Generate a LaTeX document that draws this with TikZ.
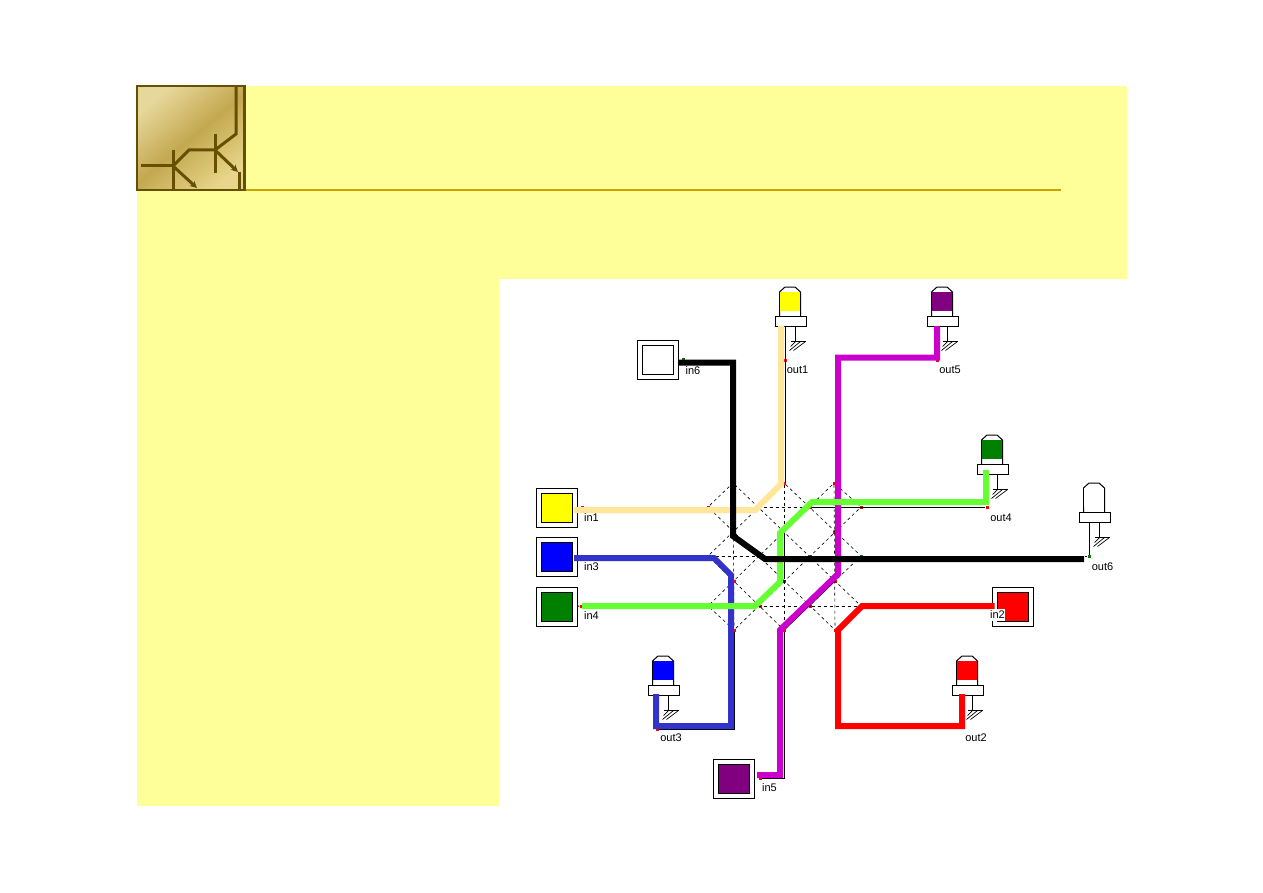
\documentclass[tikz,border=0pt]{standalone}
\usepackage{xcolor}
\usepackage{fontspec}
\setmainfont{Liberation Sans}
\usetikzlibrary{arrows.meta, positioning, calc}

\begin{document}
\begin{tikzpicture}[x=1pt, y=-1pt, font=\fontsize{11}{12}\selectfont]

\definecolor{slide}{HTML}{ffff99}
\definecolor{rule}{HTML}{c9a400}
\definecolor{brown}{HTML}{665000}
\definecolor{gold1}{HTML}{e6d79a}
\definecolor{gold2}{HTML}{c4a850}
\definecolor{gold3}{HTML}{e6d58a}
\definecolor{sig1}{HTML}{ffe699}
\definecolor{sig2}{HTML}{ff0000}
\definecolor{sig3}{HTML}{3333cc}
\definecolor{sig4}{HTML}{66ff33}
\definecolor{sig5}{HTML}{cc00cc}
\definecolor{sig6}{HTML}{000000}
\definecolor{lamp1}{HTML}{ffff00}
\definecolor{lamp2}{HTML}{ff0000}
\definecolor{lamp3}{HTML}{0000ff}
\definecolor{lamp4}{HTML}{008000}
\definecolor{lamp5}{HTML}{800080}

\tikzset{
  inbox/.style={rectangle, draw=black, fill=white, line width=1pt, inner sep=0pt, minimum width=41pt, minimum height=39pt},
  incore/.style={rectangle, draw=black, line width=1pt, inner sep=0pt, minimum width=31pt, minimum height=29pt},
  port/.style={rectangle, fill=red, inner sep=0pt, minimum size=3pt},
  gport/.style={rectangle, fill=lamp4, inner sep=0pt, minimum size=3pt},
  ledbase/.style={rectangle, draw=black, fill=white, line width=1pt, inner sep=0pt, minimum width=31pt, minimum height=10pt},
  lattice/.style={black, line width=.6pt, dash pattern=on 3pt off 3pt},
  thin wire/.style={black, line width=1pt},
  wire/.style={line width=6pt},
  tr/.style={brown, line width=3pt},
  lbl/.style={inner sep=0pt}
}

\useasboundingbox (0,0) rectangle (1263,893);

%slide
\fill[slide] (137,86) rectangle (1127,806);
\fill[white] (499,279) rectangle (1127,806);
\draw[rule, line width=2pt] (203,190) -- (1061,190);

%logo
\node[rectangle, draw=brown, line width=2pt, inner sep=0pt, minimum width=108pt, minimum height=104pt,
  top color=gold1, bottom color=gold3, middle color=gold2, shading angle=40] (logo) at (191,138) {};
\draw[brown, line width=3pt] (244.5,86) -- (244.5,190);
\draw[tr] (141,166) -- (173,166);
\draw[tr] (173,150) -- (173,190);
\draw[tr] (173,166) -- (189,150) -- (215,150);
\draw[tr] (215,134) -- (215,173);
\draw[tr] (215,150) -- (236,134) -- (236,87);
\draw[tr, -{Stealth[length=7pt, width=7pt]}] (173,166) -- (197,188);
\draw[tr, -{Stealth[length=7pt, width=7pt]}] (215,150) -- (238,172);
\draw[tr] (239,172) -- (239,189);

%ports of the switch
\foreach \n/\x/\y in {w1/708/507, w2/708/556, w3/708/606, n1/733/483, n2/784/483, n3/834/483,
    e1/861/507, e3/861/606, s1/734/630, s2/784/630, s3/835/630,
    p1/834/532, p2/734/581, p3/784/581, p4/835/581, p5/760/606, p6/810/606, p7/810/507} {
  \node[port] (\n) at (\x,\y) {};
}
\node[gport] (e2) at (861,556) {};
\node[gport] (p8) at (810,556) {};

\foreach \a/\b in {w1/e1, w2/e2, w3/e3, n1/s1, n2/s2, n3/s3,
    n1/e3, n2/e2, n3/e1, w1/s3, w2/s2, w3/s1,
    w1/n1, w2/n2, w3/n3, s1/e1, s2/e2, s3/e3} {
  \draw[lattice] (\a) -- (\b);
}
\draw[thin wire] (s2) -- (p4);
\draw[thin wire] (p3) -- (784,533);

%inputs
\foreach \n/\x/\y/\c in {in1/556.5/508/lamp1, in3/556.5/557/lamp3,
    in4/556.5/607/lamp4, in6/658/360/white,
    in5/733.5/778.5/lamp5, in2/1012.5/606.5/lamp2} {
  \node[inbox] (\n) at (\x,\y) {};
  \node[incore, fill=\c] (\n core) at (\x,\y) {};
}

%lamps
\foreach \n/\x/\y/\c in {out1/775/316/lamp1, out5/927/316/lamp5, out4/977/464/lamp4,
    out6/1079/512/white, out3/648/685/lamp3, out2/952/685/lamp2} {
  \begin{scope}[shift={(\x,\y)}]
    \draw[line width=1pt, fill=white] (4.5,0) -- (4.5,-24) -- (10,-29) -- (20,-29) -- (25.5,-24) -- (25.5,0);
    \fill[\c] (5,-24) rectangle (25,-5);
    \draw[line width=1pt] (4.5,-24) -- (4.5,0) (25.5,-24) -- (25.5,0);
    \node[ledbase] (\n) at (15.5,5) {};
    \draw[line width=1pt] (\n.south) ++(5,0) -- ++(0,15) coordinate (\n g);
    \draw[line width=1pt] (\n g) ++(-5,0) -- ++(15,0);
    \draw[line width=.7pt] (\n g) ++(0,0) -- ++(-5,5);
    \draw[line width=.7pt] (\n g) ++(5,0) -- ++(-11,9);
    \draw[line width=.7pt] (\n g) ++(10,0) -- ++(-12,9);
  \end{scope}
}

%end ports
\node[port] (in1p) at (582,507) {};
\node[port] (in3p) at (582,556) {};
\node[port] (in4p) at (581,606) {};
\node[port] (in5p) at (760,778) {};
\node[gport] (in6p) at (683,359.5) {};
\node[port] (out1p) at (785,360) {};
\node[port] (out3p) at (657,729.5) {};
\node[port] (out4p) at (987,507) {};
\node[port] (out5p) at (937,360) {};
\node[gport] (out6p) at (1089,556.5) {};

\draw[thin wire] (out1) ++(-5.5,5) -- (785,483);
\draw[thin wire] (p7) -- (out4p);
\draw[thin wire] (in4) -- (in4p);
\draw[thin wire] (in5p) -- (784,778) -- (s2);
\draw[thin wire] (out3p) -- (734,729.5) -- (s1);
\draw[thin wire] (out6) ++(-5.5,5) -- (out6p);
\draw[thin wire] (out6p) -- (1085,556.5);

%wire ends
\foreach \n/\x/\y in {a1/574/510, b1/781/326, a3/574/558, b3/656/694, a4/582/606, b4/986/470,
    a2/994.5/606, b2/962/694, a5/757/775, b5/937/326, a6/678/362.5, b6/1084/559} {
  \coordinate (\n) at (\x,\y);
}

\draw[wire, sig1] (a1) -- (755,510) -- (781,484) -- (b1);
\draw[wire, sig3] (a3) -- (714,558) -- (731,575) -- (731,726) -- (656,726) -- (b3);
\draw[wire, sig2] (a2) -- (862,606) -- (838,630) -- (838,726) -- (962,726) -- (b2);
\draw[wire, sig5] (b5) -- (937,357.5) -- (838,357.5) -- (838,574) -- (780,630) -- (780,775) -- (a5);
\draw[wire, sig4] (a4) -- (755,606) -- (780,582) -- (780,533) -- (812,502) -- (986,502) -- (b4);
\draw[wire, sig6] (a6) -- (733,362.5) -- (733,536) -- (765,559) -- (b6);

%labels
\foreach \n/\x/\y/\t in {l1/591.5/517.5/in1, l3/591.5/567/in3, l4/591.5/616/in4, l5/769.5/788/in5, l6/693/370.5/in6,
    o1/797.5/370/out1, o5/950/370/out5, o4/1001/518/out4, o6/1102.5/567/out6, o3/671/738/out3, o2/976/738/out2} {
  \node[lbl] (\n) at (\x,\y) {\t};
}
\node[lbl, fill=white, minimum width=15pt, minimum height=12pt] (l2) at (997.5,615) {in2};

\end{tikzpicture}
\end{document}
